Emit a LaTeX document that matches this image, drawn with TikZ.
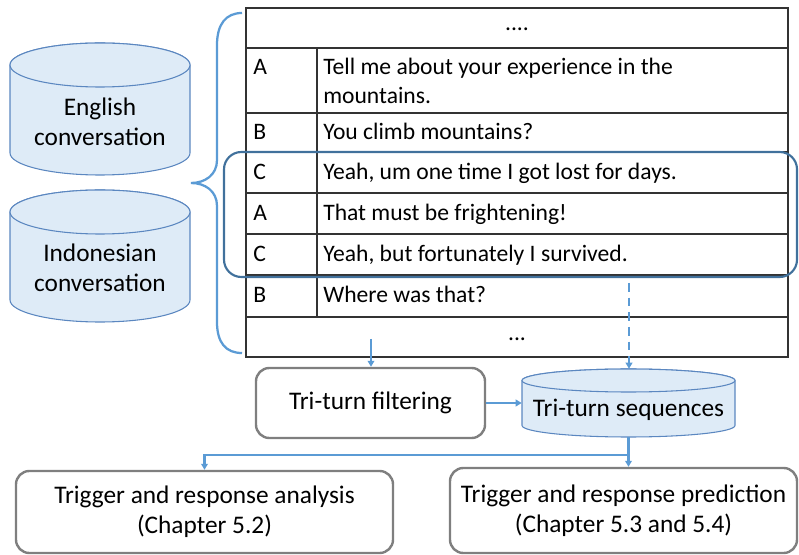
\documentclass[tikz,border=0pt]{standalone}
\usepackage{fontspec}
\setmainfont{Carlito}
\usetikzlibrary{arrows.meta}
\definecolor{cylfill}{HTML}{DEEBF7}
\definecolor{cylline}{HTML}{5B87C0}
\definecolor{flow}{HTML}{5B9BD5}
\definecolor{hilite}{HTML}{41719C}
\definecolor{boxline}{HTML}{7F7F7F}
\definecolor{gridline}{HTML}{333333}

% database cylinder: centre x, top y, bottom y, x radius, y radius
\newcommand\dbcyl[5]{%
  \filldraw[cylbody] (#1-#4,#2+#5) -- (#1-#4,#3-#5)
    arc[start angle=180,end angle=0,x radius=#4,y radius=#5]
    -- (#1+#4,#2+#5)
    arc[start angle=0,end angle=-180,x radius=#4,y radius=#5] -- cycle;
  \draw[cylbody] (#1,#2+#5) ellipse[x radius=#4,y radius=#5];
}

\tikzset{
  cylbody/.style={fill=cylfill,draw=cylline,line width=0.8pt},
  flowline/.style={draw=flow,line width=1.6pt,-{Triangle[length=4.5pt,width=5pt]}},
  stepbox/.style={draw=boxline,line width=1.8pt,rounded corners=10pt,align=center,
    font=\fontsize{19}{22.5}\selectfont,inner sep=0pt},
  rowtext/.style={anchor=base west,inner sep=0pt,font=\fontsize{17.7}{21}\selectfont},
  cyltext/.style={align=center,inner sep=0pt,font=\fontsize{19}{22.5}\selectfont},
}

\begin{document}
\begin{tikzpicture}[x=0.75pt,y=-0.75pt]
\useasboundingbox (0,0) rectangle (799,555);

% source corpora
\dbcyl{100}{43}{175}{90}{22}
\dbcyl{100}{190}{322}{90}{22}
\node[cyltext] (english) at (100,122) {English\\conversation};
\node[cyltext] (indo) at (100,268) {Indonesian\\conversation};

% brace gathering both corpora
\draw[flow,line width=1.7pt] (242,13) .. controls (226,13) and (217,24) .. (217,45)
  -- (217,160) .. controls (217,175) and (205,183) .. (191,183)
  .. controls (205,183) and (217,191) .. (217,206)
  -- (217,322) .. controls (217,343) and (226,353) .. (242,353);

% conversation table
\node[draw=gridline,line width=1.1pt,minimum width=406.5pt,minimum height=261.75pt,inner sep=0pt]
  (table) at (517,182.5) {};
\foreach \yy in {48,113,152,193,234,275,317}
  \draw[gridline,line width=1.1pt] (246,\yy) -- (788,\yy);
\draw[gridline,line width=1.1pt] (317,48) -- (317,317);

\node[rowtext,anchor=base] (dotstop) at (517,31) {....};
\node[rowtext] (s1) at (253,75) {A};
\node[rowtext] (t1) at (323,75) {Tell me about your experience in the};
\node[rowtext] (t1b) at (323,104) {mountains.};
\node[rowtext] (s2) at (253,139.5) {B};
\node[rowtext] (t2) at (323,139.5) {You climb mountains?};
\node[rowtext] (s3) at (253,179.5) {C};
\node[rowtext] (t3) at (323,179.5) {Yeah, um one time I got lost for days.};
\node[rowtext] (s4) at (253,220.5) {A};
\node[rowtext] (t4) at (323,220.5) {That must be frightening!};
\node[rowtext] (s5) at (253,261.5) {C};
\node[rowtext] (t5) at (323,261.5) {Yeah, but fortunately I survived.};
\node[rowtext] (s6) at (253,303) {B};
\node[rowtext] (t6) at (323,303) {Where was that?};
\node[rowtext,anchor=base] (dotsbot) at (517,341) {...};

% tri-turn window
\draw[hilite,line width=1.6pt,rounded corners=13pt] (224,152) rectangle (797,277);

% pipeline
\node[stepbox,minimum width=171.75pt,minimum height=52.5pt] (filter) at (370.5,403) {Tri-turn filtering};
\dbcyl{628.5}{369}{437}{106.5}{11.5}
\node[inner sep=0pt,minimum width=159.75pt,minimum height=51pt] (seq) at (628.5,403) {};
\node[cyltext] (seqtext) at (628.5,410) {Tri-turn sequences};
\node[stepbox,minimum width=282.75pt,minimum height=61.5pt] (anal) at (204.5,512)
  {Trigger and response analysis\\(Chapter 5.2)};
\node[stepbox,minimum width=260.25pt,minimum height=63.75pt] (pred) at (623.5,510.5)
  {Trigger and response prediction\\(Chapter 5.3 and 5.4)};

\coordinate (tabfoot) at (371,339);
\coordinate (hlfoot) at (629,283);
\coordinate (split) at (628.5,455);

\draw[flowline] (tabfoot) -- (tabfoot |- filter.north);
\draw[flowline,dash pattern=on 6.5pt off 4.5pt] (hlfoot) -- (hlfoot |- seq.north);
\draw[flowline] (filter.east) -- (seq.west);
\draw[flow,line width=1.6pt] (seq.south) -- (split);
\draw[flowline] (split) -| (anal.north);
\draw[flowline] (split) -- (split |- pred.north);
\end{tikzpicture}
\end{document}
